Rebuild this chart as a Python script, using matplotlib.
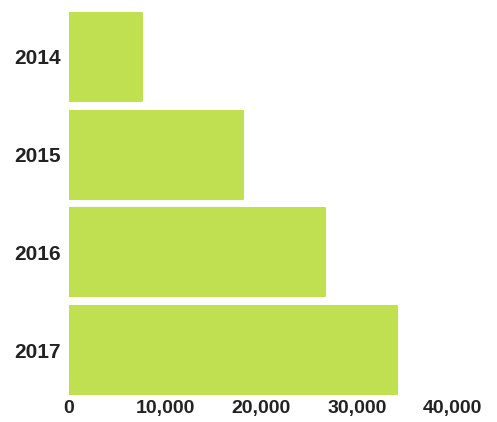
import matplotlib
matplotlib.use("Agg")
import matplotlib.pyplot as plt

# Data
years = ["2014", "2015", "2016", "2017"]
values = [7600, 18100, 26700, 34200]
xticks = [0, 10000, 20000, 30000, 40000]
xtick_labels = ["0", "10,000", "20,000", "30,000", "40,000"]

plt.rcParams['font.family'] = ['Liberation Sans', 'DejaVu Sans']

fig = plt.figure(figsize=(4.97, 4.22), dpi=100)
ax = fig.add_axes([0.139, 0.0545, 0.772, 0.9265])

ax.barh(years, values, height=0.9, color='#c0e052', edgecolor='#c0e052',
        linewidth=1.5, joinstyle='round')
ax.set_ylim(3.5, -0.5)
ax.set_xlim(0, 40000)
ax.set_xticks(xticks)
ax.set_xticklabels(xtick_labels)

for s in ax.spines.values():
    s.set_visible(False)
ax.tick_params(length=0, colors='#222222')
ax.tick_params(axis='y', pad=6, labelsize=15)
ax.tick_params(axis='x', pad=1, labelsize=14)
for lbl in ax.get_xticklabels() + ax.get_yticklabels():
    lbl.set_fontweight('bold')

fig.savefig("out.png", dpi=100)
